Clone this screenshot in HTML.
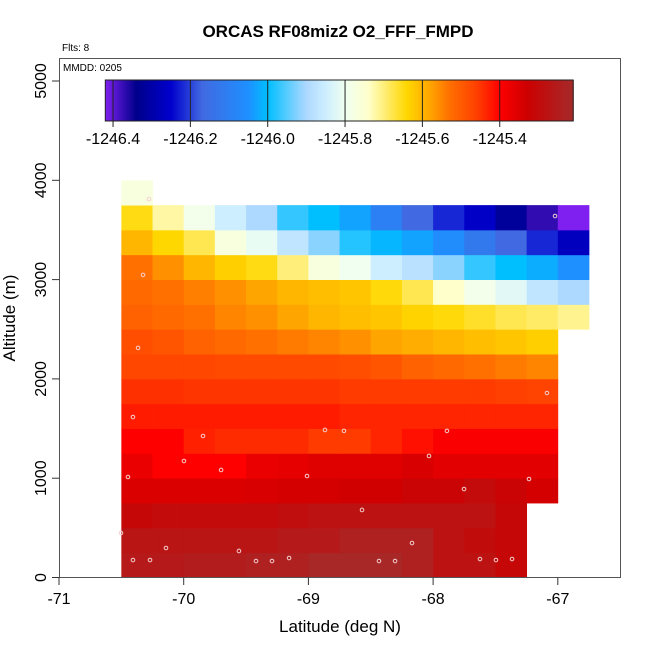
<!DOCTYPE html>
<html><head><meta charset="utf-8"><style>
body{margin:0;background:#fff}
svg{display:block;font-family:"Liberation Sans",sans-serif}
</style></head><body>
<svg id="chart" width="650" height="650" viewBox="0 0 650 650">
<text x="338" y="37" text-anchor="middle" font-size="17" font-weight="bold">ORCAS RF08miz2 O2_FFF_FMPD</text>
<text x="62" y="51" font-size="10">Flts: 8</text>
<g id="cells"></g>
<g id="pts"></g>
<rect x="59.5" y="58.5" width="561" height="519" fill="none" stroke="#555"/>
<text x="63" y="71" font-size="10">MMDD: 0205</text>
<g id="cbar"></g>
<g id="axes"></g>
<text x="340" y="632" text-anchor="middle" font-size="17">Latitude (deg N)</text>
<text transform="translate(15,318) rotate(-90)" text-anchor="middle" font-size="17">Altitude (m)</text>
</svg>
<script>
const latEdges0 = -70.5, latStep = 0.25;
const altStep = 250;
// rows from altitude 0-250 (row 0) up to 3750-4000 (row 15)
const row0 = [-1245.26,-1245.26,-1245.25,-1245.25,-1245.24,-1245.24,-1245.22,-1245.22,-1245.22,-1245.24,-1245.28,-1245.28,-1245.31];
const row1 = [-1245.27,-1245.27,-1245.27,-1245.27,-1245.27,-1245.26,-1245.26,-1245.24,-1245.24,-1245.24,-1245.28,-1245.295,-1245.31];
const row2 = [-1245.31,-1245.30,-1245.30,-1245.30,-1245.30,-1245.29,-1245.28,-1245.28,-1245.28,-1245.28,-1245.28,-1245.28,-1245.31];
const row3 = [-1245.35,-1245.35,-1245.35,-1245.35,-1245.345,-1245.34,-1245.34,-1245.335,-1245.335,-1245.32,-1245.32,-1245.30,-1245.32,-1245.34];
const row4 = [-1245.37,-1245.40,-1245.40,-1245.40,-1245.37,-1245.365,-1245.355,-1245.355,-1245.355,-1245.345,-1245.36,-1245.36,-1245.36,-1245.36];
const row5 = [-1245.40,-1245.40,-1245.43,-1245.44,-1245.44,-1245.44,-1245.455,-1245.455,-1245.435,-1245.415,-1245.395,-1245.395,-1245.395,-1245.395];
const row6 = [-1245.425,-1245.425,-1245.425,-1245.425,-1245.425,-1245.425,-1245.425,-1245.435,-1245.435,-1245.435,-1245.435,-1245.435,-1245.435,-1245.435];
const row7 = [-1245.445,-1245.445,-1245.45,-1245.45,-1245.45,-1245.45,-1245.45,-1245.455,-1245.455,-1245.455,-1245.455,-1245.455,-1245.46,-1245.465];
const row8 = [-1245.47,-1245.47,-1245.47,-1245.475,-1245.475,-1245.475,-1245.475,-1245.48,-1245.49,-1245.51,-1245.52,-1245.53,-1245.54,-1245.55];
const row9 = [-1245.48,-1245.49,-1245.51,-1245.52,-1245.53,-1245.54,-1245.55,-1245.56,-1245.58,-1245.59,-1245.60,-1245.61,-1245.62,-1245.63];
const row10 = [-1245.51,-1245.52,-1245.53,-1245.55,-1245.56,-1245.58,-1245.60,-1245.61,-1245.62,-1245.635,-1245.645,-1245.66,-1245.68,-1245.69,-1245.71];
const row11 = [-1245.52,-1245.53,-1245.545,-1245.56,-1245.58,-1245.60,-1245.61,-1245.62,-1245.645,-1245.68,-1245.74,-1245.79,-1245.82,-1245.87,-1245.90];
const row12 = [-1245.53,-1245.56,-1245.60,-1245.63,-1245.65,-1245.70,-1245.77,-1245.80,-1245.85,-1245.88,-1245.92,-1245.97,-1246.00,-1246.02,-1246.05];
const row13 = [-1245.60,-1245.64,-1245.68,-1245.77,-1245.81,-1245.87,-1245.92,-1245.98,-1246.01,-1246.03,-1246.06,-1246.12,-1246.17,-1246.22,-1246.27];
const row14 = [-1245.65,-1245.72,-1245.79,-1245.85,-1245.90,-1245.97,-1246.00,-1246.03,-1246.10,-1246.17,-1246.22,-1246.26,-1246.32,-1246.37,-1246.42];
const row15 = [-1245.77];
const rows = [row0,row1,row2,row3,row4,row5,row6,row7,row8,row9,row10,row11,row12,row13,row14,row15];
const ptLat = [-70.503,-70.407,-70.27,-70.142,-69.557,-69.42,-69.292,-69.155,-68.434,-68.305,-68.169,-67.624,-67.496,-67.367,-68.57,-67.752,-67.231,-70.447,-69.70,-69.011,-68.033,-69.998,-69.845,-68.867,-68.715,-67.889,-70.407,-67.087,-70.366,-70.326,-67.022,-70.278];
const ptAlt = [448,176,176,297,267,166,166,196,166,166,347,186,176,186,680,891,992,1012,1083,1022,1224,1173,1425,1486,1476,1476,1616,1858,2312,3047,3640,3811];
const xTicks = [-71,-70,-69,-68,-67];
const yTicks = [0,1000,2000,3000,4000,5000];
const cbTicks = [-1246.4,-1246.2,-1246.0,-1245.8,-1245.6,-1245.4];
const cbMin = -1246.42, cbMax = -1245.21;

const stopV = [-1246.42,-1246.34,-1246.25,-1246.17,-1246.05,-1246.00,-1245.90,-1245.85,-1245.80,-1245.74,-1245.64,-1245.58,-1245.53,-1245.46,-1245.40,-1245.33,-1245.21];
const stopC = ["#8020f0","#00008b","#0000cd","#4169e1","#1e90ff","#00bfff","#add8ff","#cdeeff","#f0fff0","#ffffcc","#ffd700","#ffa500","#ff7000","#ff4000","#ff0000","#cd0000","#a52a2a"];
function hx(c){return [1,3,5].map(i=>parseInt(c.substr(i,2),16));}
function cmap(v){
  if(v<=stopV[0])return stopC[0];
  for(let i=1;i<stopV.length;i++){
    if(v<=stopV[i]){const t=(v-stopV[i-1])/(stopV[i]-stopV[i-1]);const a=hx(stopC[i-1]),b=hx(stopC[i]);
      return "rgb("+a.map((x,k)=>Math.round(x+(b[k]-x)*t)).join(",")+")";}
  }
  return stopC[stopC.length-1];
}
const X = lat => 59 + (lat+71)*124.7;
const Y = alt => 577.5 - alt*0.0993;
const NS="http://www.w3.org/2000/svg";
function mk(tag,attrs,parent){const e=document.createElementNS(NS,tag);for(const k in attrs)e.setAttribute(k,attrs[k]);parent.appendChild(e);return e;}

const cells=document.getElementById('cells');
rows.forEach((r,ri)=>{r.forEach((v,ci)=>{
  if(v===null)return;
  const x0=X(latEdges0+ci*latStep),x1=X(latEdges0+(ci+1)*latStep);
  const y1=Y(ri*altStep),y0=Y((ri+1)*altStep);
  const e=mk('rect',{x:x0,y:y0,width:x1-x0+0.4,height:y1-y0+0.4,fill:cmap(v)},cells);
  
  
});});

const pts=document.getElementById('pts');
ptLat.forEach((la,i)=>{
  const e=mk('circle',{cx:X(la),cy:Y(ptAlt[i]),r:1.8,fill:"none",stroke:"#f4d0d0","stroke-width":1},pts);
  
  
});

const axes=document.getElementById('axes');
xTicks.forEach(t=>{
  const e=mk('line',{x1:X(t),x2:X(t),y1:577.5,y2:585,stroke:"#333"},axes);
  
  
  const l=mk('text',{x:X(t),y:604,"text-anchor":"middle","font-size":"16"},axes);l.textContent=t;
  
  
});
yTicks.forEach(t=>{
  const e=mk('line',{x1:52,x2:59.5,y1:Y(t),y2:Y(t),stroke:"#333"},axes);
  
  
  const l=mk('text',{transform:"translate(46,"+Y(t)+") rotate(-90)","text-anchor":"middle","font-size":"16"},axes);l.textContent=t;
  
  
});

const cb=document.getElementById('cbar');
const cbX=v=>105.3+(v-cbMin)/(cbMax-cbMin)*467.9;
const N=234;
for(let i=0;i<N;i++){
  const v0=cbMin+(cbMax-cbMin)*i/N,v1=cbMin+(cbMax-cbMin)*(i+1)/N;
  const e=mk('rect',{x:cbX(v0),y:80,width:cbX(v1)-cbX(v0)+0.5,height:41,fill:cmap((v0+v1)/2)},cb);
  
  
}
const fr=mk('rect',{x:105.3,y:80,width:467.9,height:41,fill:"none",stroke:"#222","stroke-width":1},cb);


cbTicks.forEach(t=>{
  const e=mk('line',{x1:cbX(t),x2:cbX(t),y1:80,y2:127,stroke:"#222"},cb);
  
  
  const l=mk('text',{x:cbX(t),y:144,"text-anchor":"middle","font-size":"16"},cb);l.textContent=t.toFixed(1);
  
  
});
</script>
</body></html>
